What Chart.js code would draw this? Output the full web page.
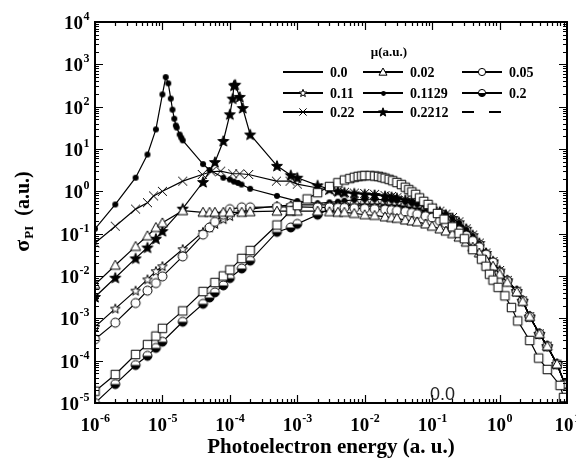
<!DOCTYPE html>
<html>
<head>
<meta charset="utf-8">
<title>Photoionization cross section</title>
<script src="https://cdn.jsdelivr.net/npm/chart.js@4.4.1/dist/chart.umd.min.js"></script>
<style>
  html, body { margin: 0; padding: 0; background: #fff; }
  canvas { display: block; }
</style>
</head>
<body>
<canvas id="sigmaChart" width="576" height="461"></canvas>
<script>
// Axis decades (exponents of ten)
const xTickExps = [-6, -5, -4, -3, -2, -1, 0, 1];
const yTickExps = [-5, -4, -3, -2, -1, 0, 1, 2, 3, 4];

// Legend labels (screening parameter mu, a.u.)
const muLabels = ['0.0', '0.02', '0.05', '0.11', '0.1129', '0.2', '0.22', '0.2212', ''];

// Shared photoelectron energy grids (a.u.)
const eLow = [1e-6, 2e-6, 4e-6, 6e-6, 8e-6, 1e-5, 2e-5, 4e-5, 5e-5, 6e-5, 8e-5, 1e-4, 1.5e-4, 2e-4, 5e-4, 8e-4, 1e-3];
const eBand = [2e-3, 3e-3, 4e-3, 5e-3, 7e-3, 1e-2, 1.4e-2, 2e-2, 2.5e-2, 3e-2, 4e-2, 5e-2, 6e-2, 8e-2, 0.1, 0.13, 0.16, 0.2, 0.25, 0.32, 0.4, 0.5, 0.63, 0.8, 1, 1.3, 1.8, 2.2, 2.8, 3.9, 5.1, 7.1, 9.3];

// mu = 0.0 (squares)
const sqE = [1e-6, 2e-6, 4e-6, 6e-6, 8e-6, 1e-5, 2e-5, 4e-5, 6e-5, 8e-5, 1e-4, 1.5e-4, 2e-4, 5e-4, 8e-4, 1e-3, 1.4e-3, 2e-3, 3e-3, 4e-3, 5e-3, 6e-3, 7e-3, 8e-3, 9e-3, 1e-2, 1.2e-2, 1.4e-2, 1.6e-2, 1.8e-2, 2e-2, 2.3e-2, 2.6e-2, 3e-2, 3.5e-2, 4e-2, 4.5e-2, 5e-2, 5.7e-2, 6.5e-2, 7.5e-2, 8.7e-2, 0.1, 0.12, 0.15, 0.2, 0.25, 0.3, 0.4, 0.54, 0.63, 0.71, 0.8, 0.95, 1.2, 1.5, 1.86, 2.8, 3.8, 5.1, 7.9, 8.9];
const sqS = [1.9e-5, 4.7e-5, 1.4e-4, 2.4e-4, 3.8e-4, 5.8e-4, 1.5e-3, 4.3e-3, 7.0e-3, 0.010, 0.014, 0.026, 0.040, 0.16, 0.35, 0.46, 0.66, 0.93, 1.3, 1.6, 1.85, 2.0, 2.15, 2.25, 2.3, 2.35, 2.35, 2.3, 2.25, 2.15, 2.05, 1.92, 1.78, 1.62, 1.45, 1.25, 1.1, 0.97, 0.85, 0.70, 0.58, 0.49, 0.40, 0.30, 0.22, 0.145, 0.102, 0.076, 0.042, 0.025, 0.017, 0.011, 8.0e-3, 5.4e-3, 3.4e-3, 1.8e-3, 8.7e-4, 3.0e-4, 1.15e-4, 6.2e-5, 2.6e-5, 1.35e-5];

// mu = 0.02 (triangles)
const triLow = [6.3e-3, 0.018, 0.05, 0.089, 0.14, 0.18, 0.35, 0.32, 0.32, 0.32, 0.32, 0.32, 0.32, 0.33, 0.34, 0.34, 0.34];
const triBand = [0.34, 0.33, 0.32, 0.32, 0.30, 0.28, 0.27, 0.25, 0.24, 0.23, 0.21, 0.20, 0.19, 0.17, 0.15, 0.13, 0.115, 0.10, 0.083, 0.063, 0.048, 0.035, 0.024, 0.017, 0.011, 7.1e-3, 4.2e-3, 2.5e-3, 1.1e-3, 4.3e-4, 2.2e-4, 8.3e-5, 2.8e-5];

// mu = 0.05 (open circles)
const circLow = [3.2e-4, 7.9e-4, 2.3e-3, 4.5e-3, 6.8e-3, 9.8e-3, 0.029, 0.095, 0.14, 0.19, 0.28, 0.38, 0.42, 0.42, 0.43, 0.43, 0.43];
const circBand = [0.42, 0.42, 0.41, 0.41, 0.40, 0.39, 0.38, 0.37, 0.36, 0.35, 0.33, 0.31, 0.29, 0.26, 0.24, 0.20, 0.175, 0.15, 0.12, 0.09, 0.068, 0.048, 0.032, 0.021, 0.012, 7.6e-3, 4.3e-3, 2.6e-3, 1.1e-3, 4.3e-4, 2.2e-4, 8.3e-5, 2.8e-5];

// mu = 0.11 (open stars)
const ostarLow = [6.3e-4, 1.7e-3, 4.5e-3, 8.3e-3, 0.013, 0.017, 0.043, 0.11, 0.14, 0.17, 0.22, 0.26, 0.33, 0.38, 0.45, 0.47, 0.48];
const ostarBand = [0.48, 0.48, 0.47, 0.47, 0.46, 0.45, 0.44, 0.42, 0.41, 0.40, 0.37, 0.35, 0.33, 0.29, 0.26, 0.22, 0.19, 0.16, 0.13, 0.097, 0.073, 0.051, 0.034, 0.022, 0.0125, 7.8e-3, 4.4e-3, 2.6e-3, 1.1e-3, 4.3e-4, 2.2e-4, 8.3e-5, 2.8e-5];

// mu = 0.1129 (filled dots), resonance near 1e-5
const dotE = [1e-6, 2e-6, 4e-6, 6e-6, 8e-6, 1e-5, 1.12e-5, 1.22e-5, 1.33e-5, 1.41e-5, 1.5e-5, 1.58e-5, 1.63e-5, 1.8e-5, 1.9e-5, 2e-5, 4e-5, 5e-5, 8e-5, 1e-4, 1.15e-4, 1.32e-4, 1.49e-4, 2e-4, 5e-4, 1e-3];
const dotLow = [0.13, 0.49, 2.1, 7.4, 29, 195, 500, 355, 155, 85, 52, 36, 32, 22, 18.6, 16, 4.4, 3.2, 2.1, 1.9, 1.7, 1.58, 1.45, 1.15, 0.78, 0.59];
const dotBand = [0.52, 0.55, 0.57, 0.6, 0.63, 0.65, 0.65, 0.63, 0.62, 0.6, 0.56, 0.52, 0.49, 0.43, 0.38, 0.32, 0.28, 0.23, 0.18, 0.126, 0.089, 0.058, 0.034, 0.021, 0.0132, 7.9e-3, 4.4e-3, 2.6e-3, 1.1e-3, 4.3e-4, 2.2e-4, 8.3e-5, 2.8e-5];

// mu = 0.2 (half-filled circles)
const halfLow = [1.0e-5, 2.8e-5, 7.9e-5, 1.3e-4, 2.0e-4, 2.8e-4, 8.3e-4, 2.2e-3, 3.1e-3, 4.1e-3, 6.0e-3, 8.9e-3, 0.015, 0.023, 0.11, 0.14, 0.17];
const halfBand = [0.28, 0.38, 0.44, 0.47, 0.50, 0.52, 0.52, 0.51, 0.50, 0.49, 0.47, 0.44, 0.42, 0.38, 0.34, 0.30, 0.25, 0.21, 0.17, 0.12, 0.085, 0.055, 0.033, 0.021, 0.0126, 7.8e-3, 4.4e-3, 2.6e-3, 1.1e-3, 4.3e-4, 2.2e-4, 8.3e-5, 2.8e-5];

// mu = 0.22 (crosses)
const crossE = [1e-6, 2e-6, 4e-6, 6e-6, 7.4e-6, 1e-5, 2e-5, 3.9e-5, 5.3e-5, 7.3e-5, 1.1e-4, 1.4e-4, 1.9e-4, 4.9e-4, 7.8e-4, 1e-3];
const crossLow = [0.06, 0.15, 0.38, 0.54, 0.78, 1.0, 1.74, 2.5, 2.9, 3.0, 2.6, 2.6, 2.5, 1.74, 1.74, 1.48];
const crossBand = [1.2, 1.07, 1.0, 0.95, 0.91, 0.89, 0.85, 0.79, 0.76, 0.71, 0.63, 0.58, 0.52, 0.46, 0.40, 0.34, 0.29, 0.24, 0.19, 0.13, 0.093, 0.06, 0.035, 0.022, 0.0135, 7.9e-3, 4.4e-3, 2.6e-3, 1.1e-3, 4.3e-4, 2.2e-4, 8.3e-5, 2.8e-5];

// mu = 0.2212 (filled stars), resonance near 1.2e-4
const fstarE = [1e-6, 2e-6, 4e-6, 6e-6, 8e-6, 1e-5, 2e-5, 4e-5, 6e-5, 8e-5, 1e-4, 1.1e-4, 1.15e-4, 1.2e-4, 1.4e-4, 1.55e-4, 2e-4, 5e-4, 8e-4, 1e-3];
const fstarLow = [3.2e-3, 9.1e-3, 0.026, 0.047, 0.076, 0.115, 0.39, 1.66, 4.9, 15.5, 66, 155, 316, 330, 170, 93, 22, 4.0, 2.4, 2.1];
const fstarBand = [1.38, 1.12, 1.0, 0.94, 0.89, 0.85, 0.82, 0.77, 0.73, 0.69, 0.62, 0.57, 0.51, 0.45, 0.39, 0.33, 0.28, 0.235, 0.185, 0.13, 0.092, 0.06, 0.035, 0.022, 0.0134, 7.9e-3, 4.4e-3, 2.6e-3, 1.1e-3, 4.3e-4, 2.2e-4, 8.3e-5, 2.8e-5];

const SERIF = '"Liberation Serif", "Times New Roman", serif';

// Build a small canvas used as a point style
function makeMarker(kind, d) {
  const s = Math.ceil(d) + 4;
  const c = document.createElement('canvas');
  c.width = s;
  c.height = s;
  const g = c.getContext('2d');
  const m = s / 2, r = d / 2;
  g.lineWidth = 1;
  g.strokeStyle = '#000';
  g.fillStyle = '#fff';
  g.beginPath();
  if (kind === 'square') {
    g.rect(m - r, m - r, d, d);
    g.fill(); g.stroke();
  } else if (kind === 'triangle') {
    g.moveTo(m, m - r);
    g.lineTo(m + r, m + r * 0.8);
    g.lineTo(m - r, m + r * 0.8);
    g.closePath();
    g.fill(); g.stroke();
  } else if (kind === 'circle') {
    g.arc(m, m, r, 0, Math.PI * 2);
    g.fill(); g.stroke();
  } else if (kind === 'dot') {
    g.fillStyle = '#000';
    g.arc(m, m, r, 0, Math.PI * 2);
    g.fill();
  } else if (kind === 'half') {
    g.arc(m, m, r, 0, Math.PI * 2);
    g.fill();
    g.beginPath();
    g.fillStyle = '#000';
    g.arc(m, m, r, 0, Math.PI);
    g.closePath();
    g.fill();
    g.beginPath();
    g.arc(m, m, r, 0, Math.PI * 2);
    g.stroke();
  } else if (kind === 'cross') {
    g.moveTo(m - r, m - r); g.lineTo(m + r, m + r);
    g.moveTo(m + r, m - r); g.lineTo(m - r, m + r);
    g.stroke();
  } else if (kind === 'star' || kind === 'starOpen') {
    const inner = r * 0.42;
    for (let k = 0; k < 10; k++) {
      const rr = k % 2 === 0 ? r : inner;
      const ang = -Math.PI / 2 + k * Math.PI / 5;
      const px = m + rr * Math.cos(ang), py = m + r * 0.08 + rr * Math.sin(ang);
      if (k === 0) g.moveTo(px, py); else g.lineTo(px, py);
    }
    g.closePath();
    g.fillStyle = kind === 'star' ? '#000' : '#fff';
    g.fill(); g.stroke();
  }
  return c;
}

const markerSize = { square: 8.5, triangle: 10, circle: 9, starOpen: 10, dot: 6, half: 9, cross: 9, star: 11.5 };

const series = [
  { e: sqE, s: sqS, marker: 'square', legendMarker: false },
  { e: eLow.concat(eBand), s: triLow.concat(triBand), marker: 'triangle' },
  { e: eLow.concat(eBand), s: circLow.concat(circBand), marker: 'circle' },
  { e: eLow.concat(eBand), s: ostarLow.concat(ostarBand), marker: 'starOpen' },
  { e: dotE.concat(eBand), s: dotLow.concat(dotBand), marker: 'dot' },
  { e: eLow.concat(eBand), s: halfLow.concat(halfBand), marker: 'half' },
  { e: crossE.concat(eBand), s: crossLow.concat(crossBand), marker: 'cross' },
  { e: fstarE.concat(eBand), s: fstarLow.concat(fstarBand), marker: 'star' },
  { e: [], s: [], marker: null, dash: [12, 15] }
];

const datasets = series.map((sr, i) => ({
  label: muLabels[i],
  data: sr.e.map((v, k) => ({ x: v, y: sr.s[k] })),
  showLine: true,
  borderColor: '#000',
  borderWidth: 1.2,
  borderDash: sr.dash || [],
  pointStyle: sr.marker ? makeMarker(sr.marker, markerSize[sr.marker]) : false,
  pointRadius: sr.marker ? 5 : 0,
  pointHoverRadius: 5,
  legendMarker: sr.marker && sr.legendMarker !== false ? makeMarker(sr.marker, markerSize[sr.marker] * 0.8) : null
}));

function drawPower(ctx, exp, x, y, align) {
  const base = '10', sup = String(exp);
  ctx.font = 'bold 19px ' + SERIF;
  const wb = ctx.measureText(base).width;
  ctx.font = 'bold 12px ' + SERIF;
  const ws = ctx.measureText(sup).width;
  const x0 = align === 'center' ? x - (wb + ws) / 2 : x - wb - ws;
  ctx.textAlign = 'left';
  ctx.textBaseline = 'alphabetic';
  ctx.font = 'bold 19px ' + SERIF;
  ctx.fillText(base, x0, y);
  ctx.font = 'bold 12px ' + SERIF;
  ctx.fillText(sup, x0 + wb + 0.5, y - 9);
}

const frameAndText = {
  id: 'frameAndText',
  afterDraw(chart) {
    const { ctx, chartArea: a } = chart;
    const xs = chart.scales.x, ys = chart.scales.y;
    ctx.save();
    ctx.fillStyle = '#000';
    ctx.strokeStyle = '#000';

    // inward ticks on all four sides
    ctx.lineWidth = 1.2;
    ctx.beginPath();
    xTickExps.slice(0, -1).forEach(p => {
      for (let m = 1; m < 10; m++) {
        const px = Math.round(xs.getPixelForValue(m * Math.pow(10, p))) + 0.5;
        const len = m === 1 ? 8 : 4;
        ctx.moveTo(px, a.bottom); ctx.lineTo(px, a.bottom - len);
        ctx.moveTo(px, a.top); ctx.lineTo(px, a.top + len);
      }
    });
    yTickExps.slice(0, -1).forEach(p => {
      for (let m = 1; m < 10; m++) {
        const py = Math.round(ys.getPixelForValue(m * Math.pow(10, p))) + 0.5;
        const len = m === 1 ? 8 : 4;
        ctx.moveTo(a.left, py); ctx.lineTo(a.left + len, py);
        ctx.moveTo(a.right, py); ctx.lineTo(a.right - len, py);
      }
    });
    ctx.stroke();

    // frame
    ctx.lineWidth = 2;
    ctx.strokeRect(a.left, a.top, a.right - a.left, a.bottom - a.top);

    // tick labels
    xTickExps.forEach(p => drawPower(ctx, p, xs.getPixelForValue(Math.pow(10, p)), 431, 'center'));
    yTickExps.forEach(p => drawPower(ctx, p, 89, ys.getPixelForValue(Math.pow(10, p)) + 7, 'right'));

    // axis titles
    ctx.font = 'bold 21px ' + SERIF;
    ctx.textAlign = 'center';
    ctx.textBaseline = 'alphabetic';
    ctx.fillText('Photoelectron energy (a. u.)', (a.left + a.right) / 2, 453);

    ctx.save();
    ctx.translate(22, 212);
    ctx.rotate(-Math.PI / 2);
    ctx.textAlign = 'left';
    ctx.font = 'bold 22px ' + SERIF;
    const wSig = ctx.measureText('\u03C3').width;
    ctx.font = 'bold 13px ' + SERIF;
    const wSub = ctx.measureText('PI').width;
    ctx.font = 'bold 20px ' + SERIF;
    const wRest = ctx.measureText('  (a.u.)').width;
    let tx = -(wSig + wSub + wRest) / 2;
    ctx.font = 'bold 22px ' + SERIF;
    ctx.fillText('\u03C3', tx, 7);
    ctx.font = 'bold 13px ' + SERIF;
    ctx.fillText('PI', tx + wSig + 1, 11);
    ctx.font = 'bold 20px ' + SERIF;
    ctx.fillText('  (a.u.)', tx + wSig + wSub + 1, 7);
    ctx.restore();

    // legend
    const colX = [283, 363, 462];
    const rowY = [72, 93, 112];
    ctx.font = 'bold 13px ' + SERIF;
    ctx.textAlign = 'center';
    ctx.fillText('\u03BC(a.u.)', 389, 56);
    ctx.font = 'bold 14px ' + SERIF;
    ctx.textAlign = 'left';
    ctx.textBaseline = 'middle';
    chart.data.datasets.forEach((ds, i) => {
      const x0 = colX[i % 3], y0 = rowY[Math.floor(i / 3)];
      ctx.lineWidth = 2;
      ctx.setLineDash(ds.borderDash && ds.borderDash.length ? ds.borderDash : []);
      ctx.beginPath();
      ctx.moveTo(x0, y0); ctx.lineTo(x0 + 40, y0);
      ctx.stroke();
      ctx.setLineDash([]);
      if (ds.legendMarker) {
        const mk = ds.legendMarker;
        ctx.drawImage(mk, Math.round(x0 + 20 - mk.width / 2), Math.round(y0 - mk.height / 2));
      }
      if (ds.label) ctx.fillText(ds.label, x0 + 47, y0 + 1);
    });

    // stray label inside the plot
    ctx.font = '18px "Liberation Sans", Arial, sans-serif';
    ctx.textBaseline = 'alphabetic';
    ctx.fillStyle = '#222';
    ctx.fillText('0.0', 430, 400);
    ctx.restore();
  }
};

new Chart(document.getElementById('sigmaChart').getContext('2d'), {
  type: 'scatter',
  data: { datasets: datasets },
  options: {
    responsive: false,
    animation: false,
    layout: { padding: { left: 95, right: 9, top: 22, bottom: 58 } },
    elements: { line: { tension: 0 } },
    plugins: { legend: { display: false }, tooltip: { enabled: false } },
    scales: {
      x: { type: 'logarithmic', min: 1e-6, max: 10, display: false },
      y: { type: 'logarithmic', min: 1e-5, max: 1e4, display: false }
    }
  },
  plugins: [frameAndText]
});
</script>
</body>
</html>
